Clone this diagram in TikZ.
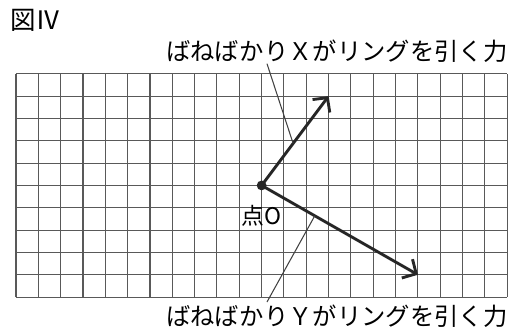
\documentclass[tikz,border=0pt]{standalone}
\usepackage{fontspec}
\newfontfamily\jpfont{Noto Sans CJK JP}
\usetikzlibrary{arrows.meta,calc}

\begin{document}
\begin{tikzpicture}[x=0.6cm,y=0.6cm]
\tikzstyle{every node}+=[inner sep=0pt]
\tikzstyle{gridline}=[draw=black!65,line width=0.8pt]
\tikzstyle{force}=[draw=black!85,line width=2.2pt,-{Straight Barb[length=2.8mm,width=5.8mm]}]
\tikzstyle{leader}=[draw=black!75,line width=0.8pt]
\tikzstyle{caption}=[font=\jpfont\fontsize{18.6}{20}\selectfont]
\useasboundingbox (-0.7165,-1.473) rectangle (22.257,13.304);
% grid paper
\draw[gridline,step=0.6cm] (0,0) grid (22,10);
% point O and the two forces
\coordinate (O) at (11,5);
\coordinate (X) at (14,9);
\coordinate (Y) at (18,1);
\draw[force] (O) -- (X);
\draw[force] (O) -- (Y);
\fill[black!85] (O) circle (0.22);
% labels
\node[anchor=west,font=\jpfont\fontsize{19.5}{20}\selectfont] (fig) at (-0.27,12.41) {図Ⅳ};
\node[caption] (labX) at (14.37,11.03) {ばねばかりＸがリングを引く力};
\node[caption] (labY) at (14.37,-0.85) {ばねばかりＹがリングを引く力};
\node[font=\jpfont\fontsize{17.5}{18}\selectfont] (pO) at (11.0,3.66) {点O};
% leader lines
\coordinate (xfoot) at (11.24,10.45);
\coordinate (yfoot) at (11.24,-0.22);
\draw[leader] (xfoot) -- ($(O)!0.47!(X)$);
\draw[leader] ($(O)!0.34!(Y)$) -- (yfoot);
\end{tikzpicture}
\end{document}
